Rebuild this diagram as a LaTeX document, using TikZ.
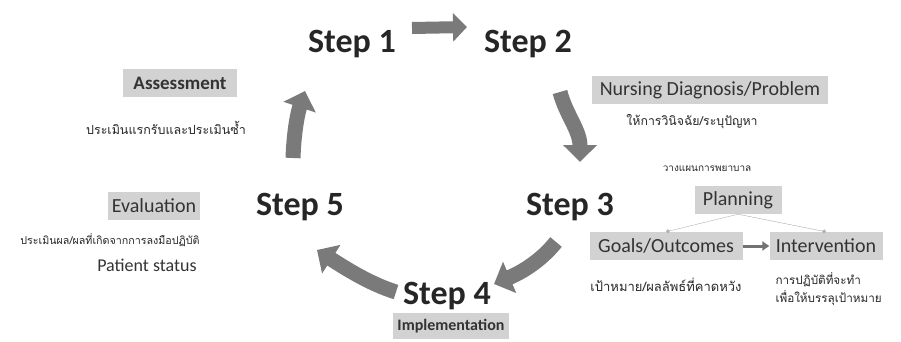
\documentclass[tikz,border=0pt]{standalone}
\usepackage{fontspec}
\setmainfont{Carlito}
\newfontfamily\thaifont[Script=Thai]{Loma}
\usetikzlibrary{arrows.meta}

\begin{document}
\begin{tikzpicture}[x=1pt,y=-1pt,
	steplabel/.style={font=\fontsize{34}{38}\selectfont\bfseries, text=black!85},
	phase/.style={fill=gray!35, font=\fontsize{20}{24}\selectfont, text=black!80, inner sep=4pt, minimum height=28pt},
	thai/.style={font=\thaifont\fontsize{#1}{18}\selectfont, text=black!85},
	thai/.default=12,
	bigarrow/.style={black!52, line width=15pt, -{Triangle[width=33pt,length=17pt]}},
	]
	\useasboundingbox (0,0) rectangle (901,342);
	% the five steps
	\node[steplabel] (s1) at (352,44) {Step 1};
	\node[steplabel] (s2) at (528,44) {Step 2};
	\node[steplabel] (s3) at (570,207) {Step 3};
	\node[steplabel] (s4) at (447,296) {Step 4};
	\node[steplabel] (s5) at (300,207) {Step 5};
	
	% arrow ends round the cycle
	\coordinate (t12) at (412,28);
	\coordinate (h12) at (467,27);
	\coordinate (t23) at (560,92);
	\coordinate (h23) at (580,162);
	\coordinate (t34) at (556,242);
	\coordinate (h34) at (494,284);
	\coordinate (t45) at (396,292);
	\coordinate (h45) at (317,250);
	\coordinate (t51) at (293,158);
	\coordinate (h51) at (305,91);
	
	\draw[bigarrow, line width=12pt, -{Triangle[width=28pt,length=14pt]}] (t12) -- (h12);
	\draw[bigarrow] (t23) .. controls (566,115) and (580,130) .. (h23);
	\draw[bigarrow] (t34) .. controls (540,262) and (520,273) .. (h34);
	\draw[bigarrow] (t45) .. controls (370,284) and (345,268) .. (h45);
	\draw[bigarrow] (t51) .. controls (294,130) and (298,112) .. (h51);
	
	% phases
	\node[phase, font=\fontsize{19}{24}\selectfont\bfseries, minimum width=114pt] (assess) at (180,83) {Assessment};
	\node[thai=12.5] (assessth) at (166,128) {ประเมินแรกรับและประเมินซ้ำ};
	
	\node[phase, minimum width=236pt] (diag) at (710,90) {Nursing Diagnosis/Problem};
	\node[thai=12.3] (diagth) at (692,122) {ให้การวินิจฉัย/ระบุปัญหา};
	
	\node[thai=10] (planth) at (707,169) {วางแผนการพยาบาล};
	\node[phase, minimum width=87pt] (plan) at (738,200) {Planning};
	\node[phase, minimum width=153pt] (goals) at (666,246) {Goals/Outcomes};
	\node[phase, minimum width=113pt] (interv) at (826,246) {Intervention};
	\draw[gray!60, -{Circle[length=4pt]}] (plan.south) -- (goals.north);
	\draw[gray!60, -{Circle[length=4pt]}] (plan.south) -- (interv.north);
	\draw[black!55, line width=3pt, -{Triangle[width=9pt,length=7pt]}] (goals) -- (interv);
	\node[thai=13] (goalsth) at (666,285) {เป้าหมาย/ผลลัพธ์ที่คาดหวัง};
	\node[thai=11.7, align=left, anchor=west] (intervth) at (772,289) {การปฏิบัติที่จะทำ\\เพื่อให้บรรลุเป้าหมาย};
	
	\node[phase, font=\fontsize{16}{20}\selectfont\bfseries, minimum width=112pt, minimum height=26pt] (impl) at (451,326) {Implementation};
	
	\node[phase, minimum width=92pt] (eval) at (154,206) {Evaluation};
	\node[thai=10.7] (evalth) at (110,240) {ประเมินผล/ผลที่เกิดจากการลงมือปฏิบัติ};
	\node[font=\fontsize{18}{22}\selectfont, text=black!80] (status) at (147,265) {Patient status};
\end{tikzpicture}
\end{document}
